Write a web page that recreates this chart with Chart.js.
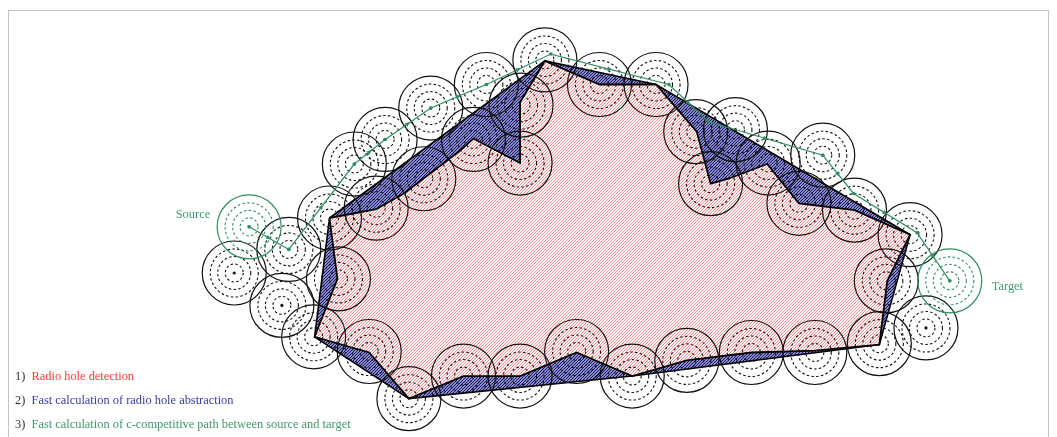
<!DOCTYPE html>
<html>
<head>
<meta charset="utf-8">
<script src="https://cdn.jsdelivr.net/npm/chart.js@4"></script>
<style>
 html, body { margin: 0; padding: 0; background: #fff; }
 #wrap { position: relative; width: 1057px; height: 437px; overflow: hidden; }
 #frame { position: absolute; left: 8px; top: 10px; width: 1039px; height: 440px;
   border: 1px solid #c4c4c4; border-bottom: none; }
 canvas { position: absolute; left: 0; top: 0; }
 .steps { position: absolute; left: 15px; top: 364px; font-family: "Liberation Serif", serif;
   font-size: 12.4px; line-height: 24px; color: #333; }
 .steps span.r { color: #ff3b3b; }
 .steps span.b { color: #3a3aa6; }
 .steps span.g { color: #3f9a6c; }
</style>
</head>
<body>
<div id="wrap">
 <div id="frame"></div>
 <canvas id="holeChart" width="1057" height="437"></canvas>
 <div class="steps">
  <div>1)&nbsp; <span class="r">Radio hole detection</span></div>
  <div>2)&nbsp; <span class="b">Fast calculation of radio hole abstraction</span></div>
  <div>3)&nbsp; <span class="g">Fast calculation of c-competitive path between source and target</span></div>
 </div>
</div>
<script>
// hole boundary (red)
const holeX = [328, 375, 403, 460, 473, 520, 520, 545, 600, 657, 698, 712, 730, 769, 801, 857, 913, 890, 882, 817, 753, 688, 633, 577, 520, 463, 408, 368, 313, 336];
const holeY = [218, 209, 193, 149, 137, 162, 100, 58, 82, 82, 130, 183, 178, 163, 203, 210, 235, 282, 347, 353, 355, 363, 379, 355, 379, 379, 402, 355, 339, 280];

// hole abstraction (blue)
const absX = [328, 545, 657, 913, 882, 633, 408, 313];
const absY = [218, 58, 82, 235, 347, 379, 402, 339];

// c-competitive path (green)
const pathX = [247, 287, 353, 384, 430, 486, 551, 670, 710, 825, 856, 920, 953];
const pathY = [227, 250, 163, 138, 106, 82, 51, 82, 120, 154, 193, 233, 282];

// nodes on the hole boundary
const holeNodeX = [328, 375, 423, 473, 520, 521, 545, 600, 657, 697, 712, 770, 801, 857, 913, 889, 882, 817, 753, 688, 633, 577, 520, 463, 408, 368, 312, 337];
const holeNodeY = [218, 208, 178, 138, 162, 103, 57, 82, 82, 130, 183, 162, 203, 210, 235, 282, 346, 355, 355, 363, 379, 354, 379, 379, 402, 354, 339, 280];

// other nodes
const nodeX = [232, 287, 280, 353, 384, 430, 486, 737, 825, 929];
const nodeY = [274, 250, 307, 163, 138, 106, 82, 128, 154, 330];

const srcNode = [247, 227];
const dstNode = [953, 282];

const GREEN = '#2f8f5f';

const canvas = document.getElementById('holeChart');
const ctx = canvas.getContext('2d');

function hatch(color, bg, size, width) {
 const c = document.createElement('canvas');
 c.width = c.height = size;
 const g = c.getContext('2d');
 if (bg) { g.fillStyle = bg; g.fillRect(0, 0, size, size); }
 g.strokeStyle = color;
 g.lineWidth = width;
 g.beginPath();
 g.moveTo(0, size); g.lineTo(size, 0);
 g.moveTo(-1, 1); g.lineTo(1, -1);
 g.moveTo(size - 1, size + 1); g.lineTo(size + 1, size - 1);
 g.stroke();
 return ctx.createPattern(c, 'repeat');
}

function points(xs, ys, close) {
 const p = xs.map((x, i) => ({ x: x, y: ys[i] }));
 if (close) p.push({ x: xs[0], y: ys[0] });
 return p;
}

function ring(c, x, y, r, color, dash, width) {
 c.save();
 c.strokeStyle = color;
 c.lineWidth = width;
 c.setLineDash(dash);
 c.beginPath();
 c.arc(x, y, r, 0, Math.PI * 2);
 c.stroke();
 c.restore();
}

function node(c, x, y, color, dot) {
 ring(c, x, y, 32, color, [], 1.2);
 ring(c, x, y, 24, color, [2.5, 2.3], 1.1);
 ring(c, x, y, 16.5, color, [2.5, 2.3], 1.1);
 ring(c, x, y, 9, color, [2.5, 2.3], 1.1);
 if (dot) {
  c.fillStyle = color;
  c.beginPath();
  c.arc(x, y, 1.6, 0, Math.PI * 2);
  c.fill();
 }
}

const nodesPlugin = {
 id: 'nodes',
 afterDatasetDraw(chart, args) {
  if (args.index !== 1) return;
  const sx = chart.scales.x, sy = chart.scales.y;
  const c = chart.ctx;
  holeNodeX.forEach((x, i) => node(c, sx.getPixelForValue(x), sy.getPixelForValue(holeNodeY[i]), '#111', false));
  nodeX.forEach((x, i) => node(c, sx.getPixelForValue(x), sy.getPixelForValue(nodeY[i]), '#111', true));
  node(c, sx.getPixelForValue(srcNode[0]), sy.getPixelForValue(srcNode[1]), GREEN, true);
  node(c, sx.getPixelForValue(dstNode[0]), sy.getPixelForValue(dstNode[1]), GREEN, true);
 },
 afterDatasetsDraw(chart) {
  const sx = chart.scales.x, sy = chart.scales.y;
  const c = chart.ctx;
  c.save();
  c.fillStyle = GREEN;
  for (let i = 0; i < pathX.length - 1; i++) {
   const x0 = sx.getPixelForValue(pathX[i]), y0 = sy.getPixelForValue(pathY[i]);
   const x1 = sx.getPixelForValue(pathX[i + 1]), y1 = sy.getPixelForValue(pathY[i + 1]);
   const a = Math.atan2(y1 - y0, x1 - x0);
   const mx = (x0 + x1) / 2, my = (y0 + y1) / 2;
   c.save();
   c.translate(mx, my);
   c.rotate(a);
   c.beginPath();
   c.moveTo(3, 0); c.lineTo(-2.5, -2.2); c.lineTo(-2.5, 2.2);
   c.closePath();
   c.fill();
   c.restore();
  }
  c.fillStyle = '#3f9a6c';
  c.font = '12.4px "Liberation Serif", serif';
  c.textBaseline = 'middle';
  c.textAlign = 'right';
  c.fillText('Source', sx.getPixelForValue(srcNode[0]) - 39, sy.getPixelForValue(srcNode[1]) - 12);
  c.textAlign = 'left';
  c.fillText('Target', sx.getPixelForValue(dstNode[0]) + 42, sy.getPixelForValue(dstNode[1]) + 6);
  c.restore();
 }
};

new Chart(ctx, {
 type: 'scatter',
 data: {
  datasets: [
   {
    label: 'c-competitive path',
    type: 'line',
    data: points(pathX, pathY, false),
    borderColor: GREEN,
    borderWidth: 1.2,
    pointRadius: 1.8,
    pointBorderWidth: 0,
    pointBackgroundColor: GREEN,
    fill: false,
    tension: 0,
    order: 0
   },
   {
    label: 'Radio hole',
    type: 'line',
    data: points(holeX, holeY, true),
    borderColor: '#000',
    borderWidth: 1.8,
    pointRadius: 0,
    fill: 'shape',
    backgroundColor: hatch('#ff5a5a', '#ffffff', 3, 0.7),
    tension: 0,
    order: 1
   },
   {
    label: 'Hole abstraction',
    type: 'line',
    data: points(absX, absY, true),
    borderColor: '#000',
    borderWidth: 1.6,
    pointRadius: 0,
    fill: 'shape',
    backgroundColor: hatch('#10107a', null, 3, 1.35),
    tension: 0,
    order: 2
   }
  ]
 },
 options: {
  responsive: false,
  animation: false,
  layout: { padding: 0 },
  plugins: {
   legend: { display: false },
   tooltip: { enabled: false }
  },
  scales: {
   x: { type: 'linear', min: 0, max: 1057, display: false },
   y: { type: 'linear', min: 0, max: 437, reverse: true, display: false }
  }
 },
 plugins: [nodesPlugin]
});
</script>
</body>
</html>
